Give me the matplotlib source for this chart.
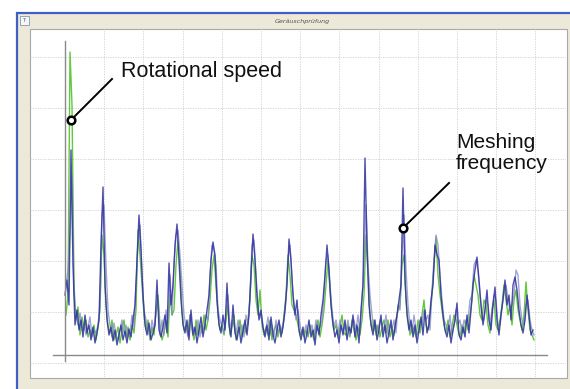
import numpy as np
import matplotlib
matplotlib.use("Agg")
import matplotlib.pyplot as plt
from matplotlib.patches import Rectangle

# Spectrum heights (arbitrary units above the baseline),
# one value every 2 bins; dark blue starts at bin 0, green and light blue one bin later
blue = [
    60, 75, 50, 205, 90, 30, 45, 25, 35, 18, 40, 22, 30, 15, 28, 12, 22, 35, 110, 168,
    70, 35, 20, 28, 14, 25, 10, 20, 30, 15, 24, 12, 26, 18, 35, 50, 95, 140, 105, 60,
    30, 20, 32, 15, 22, 30, 75, 25, 18, 28, 40, 22, 92, 50, 70, 110, 131, 95, 55, 30,
    22, 35, 15, 45, 20, 28, 12, 25, 38, 18, 30, 45, 60, 95, 113, 100, 55, 30, 22, 40,
    25, 72, 30, 18, 50, 22, 15, 28, 12, 24, 35, 20, 40, 80, 121, 95, 60, 35, 45, 28,
    18, 30, 15, 38, 20, 12, 25, 35, 18, 28, 45, 70, 116, 95, 60, 40, 55, 25, 15, 28,
    12, 22, 35, 18, 25, 10, 30, 20, 40, 55, 80, 110, 85, 50, 30, 18, 25, 12, 30, 20,
    35, 15, 28, 22, 40, 18, 30, 12, 45, 70, 197, 110, 50, 30, 20, 35, 15, 25, 40, 18,
    30, 12, 22, 35, 15, 28, 40, 55, 70, 167, 75, 40, 25, 35, 18, 30, 12, 25, 38, 20,
    45, 22, 30, 55, 70, 110, 100, 95, 60, 40, 25, 18, 30, 12, 25, 35, 52, 20, 15, 28,
    18, 40, 22, 45, 70, 85, 98, 75, 50, 30, 45, 65, 35, 25, 50, 68, 35, 20, 40, 55,
    75, 50, 60, 35, 70, 78, 65, 45, 30, 22, 35, 60, 40, 20, 25,
]
blue_light = [
    70, 85, 120, 180, 60, 40, 30, 42, 25, 32, 20, 28, 38, 18, 25, 22, 30, 50, 140, 150,
    90, 45, 30, 18, 32, 20, 15, 25, 35, 22, 30, 18, 22, 40, 28, 70, 110, 130, 80, 45,
    35, 25, 18, 35, 25, 40, 55, 20, 35, 20, 45, 30, 80, 40, 90, 120, 125, 100, 70, 40,
    28, 18, 40, 30, 25, 20, 35, 18, 30, 25, 40, 35, 80, 110, 105, 90, 45, 35, 28, 22,
    45, 60, 25, 35, 30, 20, 35, 25, 30, 18, 40, 30, 60, 110, 115, 80, 45, 40, 35, 22,
    25, 38, 20, 30, 18, 35, 22, 30, 25, 35, 55, 95, 110, 75, 50, 35, 45, 30, 20, 22,
    30, 20, 25, 30, 20, 35, 25, 28, 35, 60, 95, 100, 70, 45, 28, 35, 22, 35, 25, 28,
    25, 35, 20, 30, 35, 25, 40, 22, 55, 90, 150, 90, 60, 40, 25, 30, 22, 35, 30, 25,
    40, 20, 30, 25, 35, 22, 50, 45, 100, 140, 85, 50, 30, 22, 40, 25, 20, 35, 30, 45,
    35, 40, 25, 65, 95, 120, 110, 80, 55, 35, 30, 25, 40, 20, 30, 45, 30, 35, 22, 35,
    30, 35, 55, 60, 90, 95, 85, 60, 40, 35, 55, 50, 30, 45, 60, 55, 30, 30, 48, 65,
    70, 55, 45, 50, 60, 85, 80, 50, 35, 30, 50, 55, 35, 25, 20,
]
green = [
    40, 60, 303, 250, 70, 35, 48, 20, 38, 25, 35, 18, 25, 20, 30, 15, 28, 45, 120, 100,
    50, 30, 22, 35, 15, 20, 28, 12, 25, 35, 18, 28, 15, 30, 22, 45, 125, 100, 70, 40,
    25, 35, 15, 28, 20, 45, 60, 30, 15, 22, 35, 18, 60, 40, 45, 90, 115, 85, 45, 25,
    30, 20, 40, 25, 15, 35, 20, 30, 22, 40, 25, 35, 55, 85, 100, 70, 40, 25, 30, 20,
    35, 50, 20, 28, 40, 15, 25, 35, 18, 30, 22, 35, 55, 100, 90, 55, 40, 65, 30, 20,
    28, 20, 35, 15, 25, 30, 18, 28, 22, 40, 60, 100, 80, 50, 45, 40, 30, 20, 25, 18,
    25, 18, 30, 22, 15, 28, 35, 18, 30, 45, 70, 95, 65, 40, 25, 30, 18, 28, 40, 22,
    20, 30, 18, 35, 25, 15, 28, 20, 35, 60, 120, 80, 40, 25, 35, 20, 30, 18, 28, 35,
    22, 35, 18, 28, 20, 35, 45, 50, 90, 100, 55, 35, 20, 30, 25, 18, 35, 22, 40, 55,
    30, 25, 40, 60, 90, 118, 80, 60, 45, 30, 22, 35, 18, 28, 40, 35, 25, 18, 30, 22,
    35, 25, 40, 55, 80, 70, 60, 40, 35, 55, 50, 30, 22, 45, 55, 30, 25, 35, 50, 70,
    55, 40, 50, 30, 55, 65, 45, 35, 25, 40, 73, 45, 25, 20, 15,
]

title = "Geräuschprüfung"
label_rot = "Rotational speed"
label_mesh = "Meshing\nfrequency"
# annotated points (bin, height)
rot_point = (6, 235)
mesh_point = (338, 127)

W, H = 570, 389
fig = plt.figure(figsize=(W / 100, H / 100), dpi=100)

# window chrome, drawn in pixel coordinates
bg = fig.add_axes([0, 0, 1, 1])
bg.set_xlim(0, W)
bg.set_ylim(H, 0)
bg.axis("off")
bg.add_patch(Rectangle((16, 12), W - 16, H - 12, facecolor="#ECE9D8", edgecolor="none"))
bg.plot([16.5, 16.5], [12, H], color="#3F5FC4", lw=1.6, solid_capstyle="butt")
bg.plot([16, W], [12.5, 12.5], color="#3F5FC4", lw=1.6, solid_capstyle="butt")
bg.add_patch(Rectangle((20, 16), 9, 9, facecolor="#F7F7F3", edgecolor="#8EA4C0", lw=0.7))
bg.text(24.5, 20.8, "?", fontsize=4, ha="center", va="center", color="#333366")
bg.text(302, 21, title, fontsize=4.6, style="italic", ha="center", va="center", color="#555555")
bg.add_patch(Rectangle((29.5, 29), 537, 348.5, facecolor="white", edgecolor="#A8A8A8", lw=0.8))

# spectrum axes
ax = fig.add_axes([30 / W, 1 - 377 / H, 536 / W, 348 / H])
ax.set_facecolor("none")
for s in ax.spines.values():
    s.set_visible(False)
ax.set_xlim(-35, 501)
ax.set_ylim(-22, 326)
ax.set_xticks(np.arange(1, 13) * 39.2)
ax.set_yticks(297.7 - np.arange(7) * 51)
ax.tick_params(length=0, labelbottom=False, labelleft=False)
ax.grid(True, color="#CFCFCF", lw=0.6, linestyle=(0, (1.5, 1.5)))

x_blue = np.arange(len(blue)) * 2
x_odd = np.arange(len(green)) * 2 + 1
ax.plot(x_odd, green, color="#62C83E", lw=1.0)
ax.plot(x_odd, blue_light, color="#8484CC", lw=1.0, alpha=0.75)
ax.plot(x_blue, blue, color="#2F2F9E", lw=1.0, alpha=0.85)

# axis lines
ax.plot([-12, 482], [0, 0], color="#8A8A8A", lw=1.0)
ax.plot([0, 0], [-6, 314], color="#8A8A8A", lw=1.0)

# annotations
font = ["Liberation Sans", "DejaVu Sans"]
ax.plot([rot_point[0], 47], [rot_point[1], 276], color="black", lw=1.4)
ax.plot(*rot_point, "o", ms=5.5, mfc="white", mec="black", mew=1.8)
ax.text(56, 283, label_rot, fontsize=15.5, family=font, ha="left", va="center", color="#111111")
ax.plot([mesh_point[0], 384], [mesh_point[1], 172], color="black", lw=1.4)
ax.plot(*mesh_point, "o", ms=5.5, mfc="white", mec="black", mew=1.8)
ax.text(391, 202, label_mesh, fontsize=15, family=font, ha="left", va="center",
        multialignment="left", linespacing=1.1, color="#111111")

fig.savefig("out.png", dpi=100)
